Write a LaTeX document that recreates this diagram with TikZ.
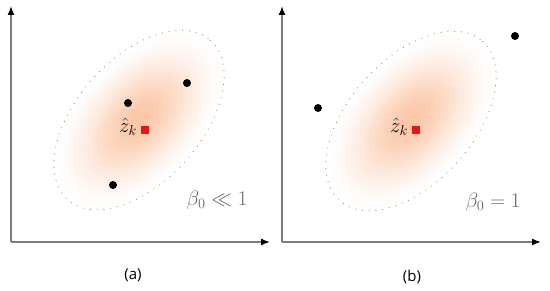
\documentclass[tikz,border=0pt]{standalone}
\usepackage{fontspec}
\setsansfont{Open Sans}
\usetikzlibrary{arrows.meta}
\definecolor{blush}{RGB}{250,200,168}
\definecolor{axisgray}{RGB}{125,125,125}
\definecolor{sqred}{RGB}{235,20,20}
\tikzset{
  axisline/.style={axisgray, line width=1.5pt, -{Latex[color=black,length=9pt,width=7pt]}},
  blackdot/.style={circle, fill=black, inner sep=0pt, minimum size=8pt},
  redsq/.style={rectangle, fill=sqred, inner sep=0pt, minimum size=7.5pt},
  dotline/.style={axisgray, line width=1.1pt, line cap=round, dash pattern=on 0pt off 6.8pt},
  mathlbl/.style={font=\fontsize{22}{24}\selectfont},
  betalbl/.style={font=\fontsize{22}{24}\selectfont, text=black!60},
  caplbl/.style={font=\sffamily\fontsize{15}{17}\selectfont}
}
\newcommand{\blob}[2]{%
  \begin{scope}[shift={(#1,#2)}, rotate=48]
    \foreach \i in {0,...,44}{
      \pgfmathsetmacro\s{1-\i/45}
      \pgfmathsetmacro\p{max(0,100*(exp(-2.1*\s*\s)-exp(-2.1))/(1-exp(-2.1)))}
      \fill[blush!\p!white] (0,0) ellipse [x radius={105*\s}, y radius={61*\s}];
    }
    \draw[dotline] (0,0) ellipse [x radius=107, y radius=62];
  \end{scope}}
\begin{document}
\begin{tikzpicture}[x=1pt,y=-1pt]
\useasboundingbox[fill=white] (0,0) rectangle (550,291);
% panel (a)
\blob{139}{120}
\coordinate (oa) at (11,242);
\coordinate (ya) at (11,6);
\coordinate (xa) at (270,242);
\draw[axisline] (oa) -- (ya);
\draw[axisline] (oa) -- (xa);
\node[blackdot] (a1) at (187,83) {};
\node[blackdot] (a2) at (128,103) {};
\node[blackdot] (a3) at (113,185) {};
\node[redsq] (za) at (145,130) {};
\node[mathlbl, anchor=east, inner sep=0pt] (zla) at ([xshift=-4pt,yshift=3pt]za.west) {$\hat{z}_k$};
\node[betalbl] (ba) at (217,200) {$\beta_0 \ll 1$};
\node[caplbl] (ca) at (133,275.5) {(a)};
% panel (b)
\blob{411}{121}
\coordinate (ob) at (282,242);
\coordinate (yb) at (282,6);
\coordinate (xb) at (541,242);
\draw[axisline] (ob) -- (yb);
\draw[axisline] (ob) -- (xb);
\node[blackdot] (b1) at (318,108) {};
\node[blackdot] (b2) at (515,36) {};
\node[redsq] (zb) at (416,130) {};
\node[mathlbl, anchor=east, inner sep=0pt] (zlb) at ([xshift=-4pt,yshift=3pt]zb.west) {$\hat{z}_k$};
\node[betalbl] (bb) at (493,202) {$\beta_0 = 1$};
\node[caplbl] (cb) at (412,276.5) {(b)};
\end{tikzpicture}
\end{document}
